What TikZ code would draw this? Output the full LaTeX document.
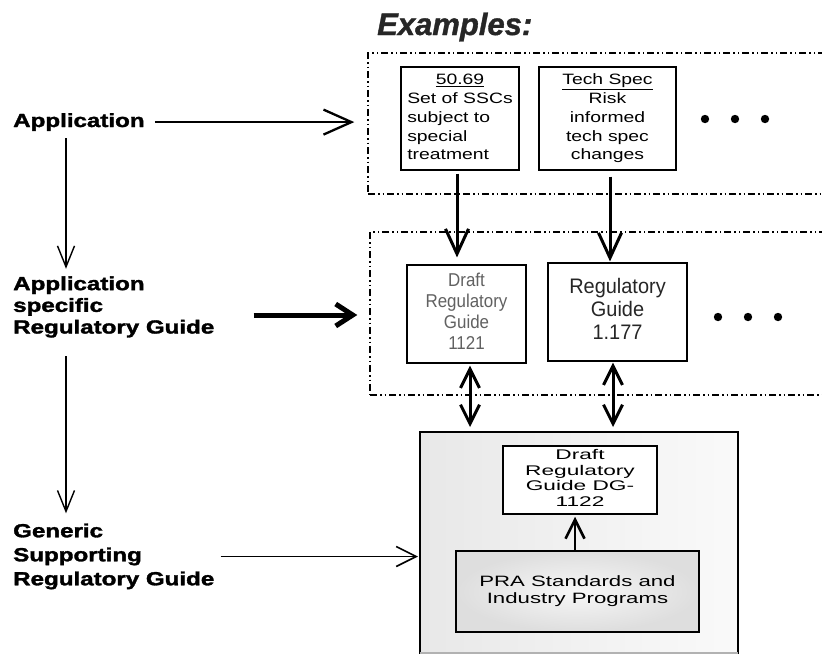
\documentclass[tikz,border=0pt]{standalone}
\usepackage{fontspec}
\setmainfont{Liberation Sans}
\newfontfamily\heavyfont[FakeBold=1.6]{Liberation Sans Bold}
\newfontfamily\heavyit[FakeBold=1.2]{Liberation Sans Bold Italic}
\usepackage{graphicx}
\usetikzlibrary{arrows.meta,calc}
\begin{document}
\begin{tikzpicture}[x=1pt,y=-1pt,
  dashbox/.style={draw, line width=1.4pt, dash pattern=on 7pt off 3pt on 1.5pt off 3pt on 1.5pt off 3pt, inner sep=0pt},
  ebox/.style={draw, line width=1.1pt, fill=white, inner sep=0pt},
  lbl/.style={inner sep=0pt},
  thinarr/.style={line width=1.4pt, -{Straight Barb[length=21pt,width=17pt]}},
  apparr/.style={line width=2.3pt, -{Straight Barb[length=28pt,width=25pt]}},
  fatarr/.style={line width=5pt, -{Straight Barb[length=17pt,width=22pt]}},
  genarr/.style={line width=1.6pt, -{Straight Barb[length=20pt,width=20pt]}},
  bigarr/.style={line width=3pt, -{Straight Barb[length=25pt,width=23pt]}},
  dblarr/.style={line width=3pt, {Straight Barb[length=19pt,width=19pt]}-{Straight Barb[length=19pt,width=19pt]}},
  uparr/.style={line width=2.6pt, -{Straight Barb[length=19pt,width=19pt]}}
]
\useasboundingbox (0,0) rectangle (822,654);
\clip (0,0) rectangle (822,654);
\fill[white] (0,0) rectangle (822,654);

% title
\node[lbl, anchor=base west, text=black!85] (ex) at (377,35) {\fontsize{31}{36}\selectfont\heavyit Examples:};

% dashed groups
\node[dashbox, minimum width=462pt, minimum height=141pt] (topdash) at (599,123.5) {};
\node[dashbox, minimum width=460pt, minimum height=163pt] (middash) at (600,313.5) {};

% top example boxes
\node[ebox, minimum width=118pt, minimum height=103pt] (b5069) at (460,118.5)
  {\scalebox{1.29}[1]{\fontsize{15}{18.8}\selectfont\begin{tabular}{@{}l@{}}\multicolumn{1}{c}{\underline{50.69}}\\Set of SSCs\\subject to\\special\\treatment\end{tabular}}};
\node[ebox, minimum width=137pt, minimum height=103pt] (btech) at (607.5,118.5)
  {\scalebox{1.29}[1]{\fontsize{15}{18.8}\selectfont\begin{tabular}{@{}c@{}}\underline{Tech Spec}\\Risk\\informed\\tech spec\\changes\end{tabular}}};
\foreach \px in {705,735,765} \fill (\px,119) circle (4.2pt);

% middle boxes
\node[ebox, minimum width=119pt, minimum height=98pt, text=black!62] (bd1121) at (466.5,314)
  {\scalebox{0.91}[1]{\fontsize{18.6}{21}\selectfont\begin{tabular}{@{}c@{}}Draft\\Regulatory\\Guide\\1121\end{tabular}}};
\node[ebox, minimum width=139pt, minimum height=98pt, text=black!85] (brg) at (617.5,312)
  {\scalebox{0.95}[1]{\fontsize{21}{23}\selectfont\begin{tabular}{@{}c@{}}Regulatory\\Guide\\1.177\end{tabular}}};
\foreach \px in {718,748,778} \fill (\px,317) circle (4.2pt);

% generic box
\node[draw, line width=2pt, minimum width=318pt, minimum height=221pt, left color=black!9, right color=black!2, inner sep=0pt] (big) at (579,542.5) {};
\draw[black!30, line width=1.5pt] (420,653) -- (738,653);
\node[draw, line width=2.5pt, fill=white, minimum width=154pt, minimum height=68pt, inner sep=0pt] (dg) at (580,480)
  {\scalebox{1.62}[1]{\fontsize{14}{15.7}\selectfont\begin{tabular}{@{}c@{}}Draft\\Regulatory\\Guide DG-\\1122\end{tabular}}};
\node[draw, line width=2pt, minimum width=243pt, minimum height=81pt, inner color=black!3, outer color=black!13, inner sep=0pt] (pra) at (577.5,591.5)
  {\scalebox{1.48}[1]{\fontsize{15}{16.5}\selectfont\begin{tabular}{@{}c@{}}PRA Standards and\\Industry Programs\end{tabular}}};

% left labels
\node[lbl, anchor=base west] (lapp) at (13,127) {\scalebox{1.27}[1]{\fontsize{19}{22}\selectfont\heavyfont Application}};
\node[lbl, anchor=west] (lasr) at (13,307.5) {\scalebox{1.27}[1]{\fontsize{19}{21.7}\selectfont\heavyfont\begin{tabular}{@{}l@{}}Application\\specific\\Regulatory Guide\end{tabular}}};
\node[lbl, anchor=west] (lgen) at (13,556.5) {\scalebox{1.27}[1]{\fontsize{19}{24}\selectfont\heavyfont\begin{tabular}{@{}l@{}}Generic\\Supporting\\Regulatory Guide\end{tabular}}};

% left connectors
\coordinate (vx) at (66,0);
\draw[thinarr, shorten <=7pt, shorten >=6pt] (lapp.south -| vx) -- (lasr.north -| vx);
\draw[thinarr, shorten <=16pt, shorten >=7pt] (lasr.south -| vx) -- (lgen.north -| vx);
\draw[apparr, shorten <=10pt, shorten >=13pt] (lapp.east) -- (lapp.east -| topdash.west);
\draw[fatarr] ($(lasr.east)+(39,7.5)$) -- ($(lasr.east -| middash.west)+(-12,7.5)$);
\draw[genarr, shorten <=6pt, shorten >=1pt] (lgen.east) -- (lgen.east -| big.west);

% right connectors
\coordinate (ax1) at (457,0);
\coordinate (ax2) at (610,0);
\coordinate (ax3) at (470,0);
\coordinate (ax4) at (613,0);
\coordinate (ax5) at (575,0);
\draw[bigarr, shorten <=3pt, shorten >=7pt] (b5069.south -| ax1) -- (bd1121.north -| ax1);
\draw[bigarr, shorten <=6pt, shorten >=1pt] (btech.south -| ax2) -- (brg.north -| ax2);
\draw[dblarr, shorten <=2pt, shorten >=4pt] (bd1121.south -| ax3) -- (big.north -| ax3);
\draw[dblarr, shorten <=1pt, shorten >=4pt] (brg.south -| ax4) -- (big.north -| ax4);
\draw[uparr, shorten >=1.5pt] (pra.north -| ax5) -- (dg.south -| ax5);
\end{tikzpicture}
\end{document}
